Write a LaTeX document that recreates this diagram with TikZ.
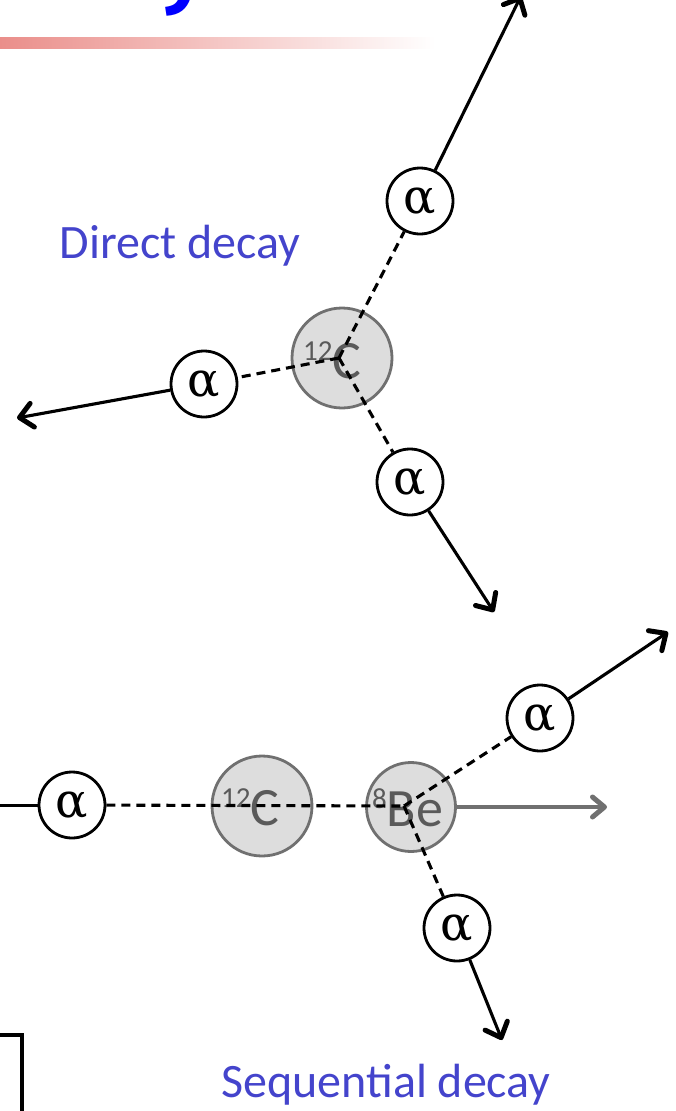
\documentclass[tikz,border=0pt]{standalone}
\usepackage{fontspec}
\setmainfont{Carlito}
\newfontfamily\titlefont{Fira Sans}[UprightFont=* Bold]
\newfontfamily\grk{DejaVu Serif}
\usetikzlibrary{arrows.meta}
\definecolor{lblue}{RGB}{68,68,204}
\definecolor{nucfill}{RGB}{221,221,221}
\definecolor{nucdraw}{RGB}{112,112,112}
\definecolor{labgray}{RGB}{90,90,90}
\definecolor{barred}{RGB}{234,142,138}
\tikzset{
  alphanode/.style={circle, draw=black, line width=2.8pt, fill=white, minimum size=66pt, inner sep=0pt, font=\grk\fontsize{48}{48}\selectfont},
  nuc/.style={circle, draw=nucdraw, line width=2.8pt, fill=nucfill, inner sep=0pt},
  nuclab/.style={anchor=base west, inner sep=0pt, text=labgray, font=\fontsize{54}{54}\selectfont},
  dsh/.style={draw=black, line width=3.1pt, dash pattern=on 9pt off 6pt},
  arr/.style={draw=black, line width=3.1pt, -{Straight Barb[length=13pt,width=24pt,line width=5pt,round]}},
  grayarr/.style={draw=nucdraw, line width=3.3pt, -{Straight Barb[length=12pt,width=20pt,line width=5pt,round]}},
  caption/.style={text=lblue, inner sep=0pt, font=\fontsize{48}{48}\selectfont}
}
\newcommand{\isot}[2]{\raisebox{18pt}{\fontsize{29}{29}\selectfont #1}#2}
\begin{document}
\begin{tikzpicture}[x=1pt,y=-1pt]
\useasboundingbox (0,0) rectangle (675,1111);
\clip (0,0) rectangle (675,1111);
% title and bar
\node[anchor=base west, inner sep=0pt, text=blue, font=\titlefont\fontsize{80}{80}\selectfont] (title) at (-14,-2) {Decay Mechanism};
\shade[left color=barred, right color=white] (0,37) rectangle (435,48);

% ---------- Direct decay ----------
\node[caption] (direct) at (180,246) {Direct decay};
\node[nuc, minimum size=100pt] (C1) at (342,358) {};
\node[nuclab] (C1l) at (303,378) {\isot{12}{C}};
\coordinate (o1) at (339,358);
\node[alphanode] (a1) at (420,201) {α};
\node[alphanode] (a2) at (204,384) {α};
\node[alphanode] (a3) at (410,482) {α};
\draw[dsh] (o1) -- (a1);
\draw[dsh] (o1) -- (a2);
\draw[dsh] (o1) -- (a3);
\coordinate (t1) at (521,-4);
\coordinate (t2) at (17,418);
\coordinate (t3) at (494,612);
\draw[arr] (a1) -- (t1);
\draw[arr] (a2) -- (t2);
\draw[arr] (a3) -- (t3);

% ---------- Sequential decay ----------
\node[nuc, minimum size=100pt] (C2) at (262,806) {};
\node[nuclab] (C2l) at (221,825) {\isot{12}{C}};
\node[nuc, minimum size=89pt] (Be) at (411,807) {};
\node[nuclab] (Bel) at (372,826) {\isot{8}{Be}};
\coordinate (o2) at (404,806);
\node[alphanode] (aL) at (72,805) {α};
\node[alphanode] (aU) at (540,718) {α};
\node[alphanode] (aD) at (457,928) {α};
\coordinate (s0) at (-5,805);
\draw[line width=3pt] (s0) -- (aL);
\draw[dsh] (aL) -- (o2);
\draw[dsh] (o2) -- (aU);
\draw[dsh] (o2) -- (aD);
\coordinate (t4) at (668,632);
\coordinate (t5) at (502,1040);
\coordinate (t6) at (607,807);
\draw[arr] (aU) -- (t4);
\draw[arr] (aD) -- (t5);
\draw[grayarr] (Be.east) -- (t6);
\node[caption] (seq) at (386,1085) {Sequential decay};

% bottom-left box fragment
\coordinate (b0) at (-5,1035);
\coordinate (b1) at (22,1035);
\coordinate (b2) at (22,1120);
\draw[line width=3.2pt] (b0) -- (b1) -- (b2);
\end{tikzpicture}
\end{document}
